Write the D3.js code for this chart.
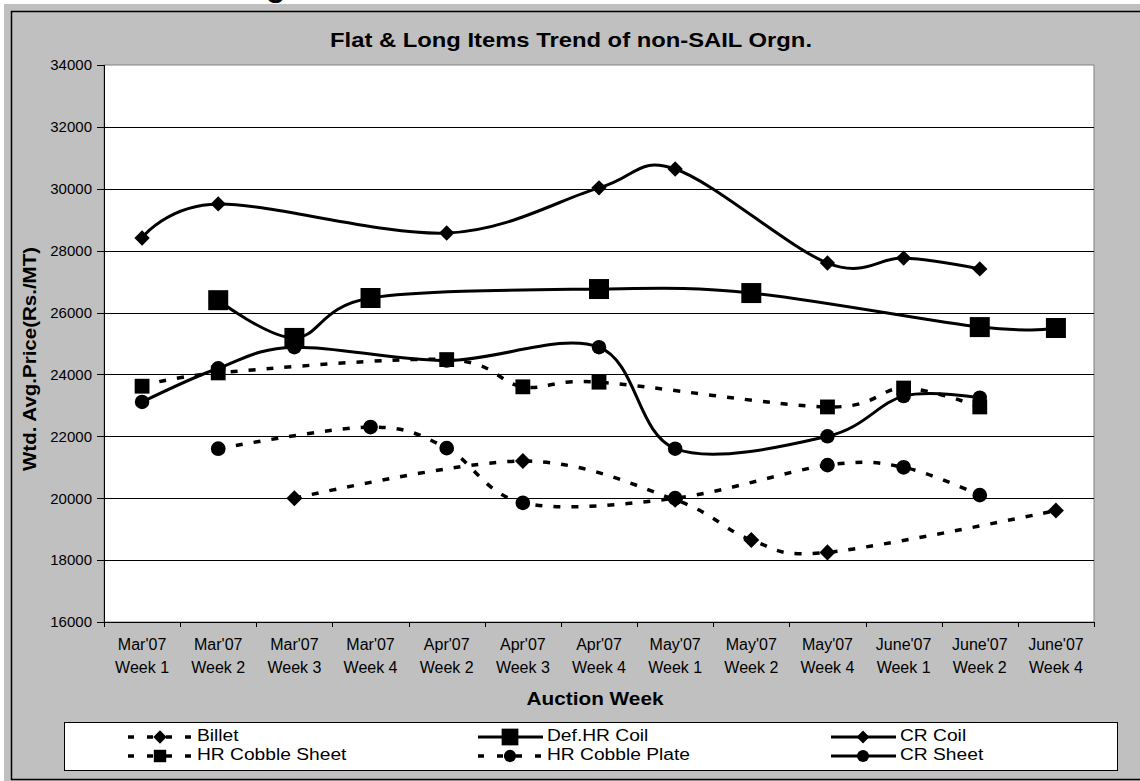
<!DOCTYPE html>
<html>
<head>
<meta charset="utf-8">
<script src="https://cdn.jsdelivr.net/npm/d3@7"></script>
<style>
  body { margin: 0; background: #fff; }
  text { font-family: Arial, "Liberation Sans", sans-serif; fill: #000; }
</style>
</head>
<body>
<svg id="chart" width="1140" height="781"></svg>
<script>
// categories
const months = ["Mar'07", "Mar'07", "Mar'07", "Mar'07", "Apr'07", "Apr'07", "Apr'07",
  "May'07", "May'07", "May'07", "June'07", "June'07", "June'07"]
const weeks = ['Week 1', 'Week 2', 'Week 3', 'Week 4', 'Week 2', 'Week 3', 'Week 4',
  'Week 1', 'Week 2', 'Week 4', 'Week 1', 'Week 2', 'Week 4']

// series values (Rs./MT), null = no auction that week
const billet = [null, null, 20000, null, null, 21200, null, 19950, 18650, 18250, null, null, 19600]
const defHrCoil = [null, 26400, 25180, 26470, null, null, 26760, null, 26630, null, null, 25530, 25500]
const crCoil = [28410, 29510, null, null, 28570, null, 30030, 30640, null, 27600, 27760, 27410, null]
const hrCobbleSheet = [23620, 24050, null, null, 24480, 23600, 23750, null, null, 22950, 23560, 22950, null]
const hrCobblePlate = [null, 21600, null, 22300, 21620, 19850, null, 20000, null, 21070, 21000, 20100, null]
const crSheet = [23110, 24200, 24880, null, 24450, null, 24880, 21600, null, 22000, 23300, 23250, null]

const yTicks = [16000, 18000, 20000, 22000, 24000, 26000, 28000, 30000, 32000, 34000]

let width = 1140
let height = 781

let plot = { left: 104, right: 1094, top: 65, bottom: 622 }

let series = [
  { name: 'Billet', values: billet, dashed: true, shape: 'diamond', size: 128 },
  { name: 'Def.HR Coil', values: defHrCoil, dashed: false, shape: 'square', size: 400 },
  { name: 'CR Coil', values: crCoil, dashed: false, shape: 'diamond', size: 118 },
  { name: 'HR Cobble Sheet', values: hrCobbleSheet, dashed: true, shape: 'square', size: 220 },
  { name: 'HR Cobble Plate', values: hrCobblePlate, dashed: true, shape: 'circle', size: 170 },
  { name: 'CR Sheet', values: crSheet, dashed: false, shape: 'circle', size: 165 }
]
// marker stacking seen in the picture
let markerOrder = ['Billet', 'CR Sheet', 'Def.HR Coil', 'CR Coil', 'HR Cobble Plate', 'HR Cobble Sheet']

let svg = d3.select('#chart')

// page / chart area
svg.append('rect')
  .attr('x', 4).attr('y', 4)
  .attr('width', width).attr('height', height)
  .attr('fill', '#c0c0c0')

// bit of the slide heading that is cut off
svg.append('text')
  .text('g')
  .attr('x', 266).attr('y', -4)
  .attr('font-size', 32).attr('font-weight', 'bold')

svg.append('rect')
  .attr('x', 11.5).attr('y', 11.5)
  .attr('width', width).attr('height', 768)
  .attr('fill', 'none')
  .attr('stroke', '#000')
  .attr('stroke-width', 1.5)

let xScale = d3.scalePoint()
  .domain(d3.range(months.length))
  .range([plot.left, plot.right])
  .padding(0.5)

let xEdges = d3.scaleLinear()
  .domain([0, months.length])
  .range([plot.left, plot.right])

let yScale = d3.scaleLinear()
  .domain([16000, 34000])
  .range([plot.bottom, plot.top])

// plot area
svg.append('rect')
  .attr('x', plot.left).attr('y', plot.top)
  .attr('width', plot.right - plot.left)
  .attr('height', plot.bottom - plot.top)
  .attr('fill', '#fff')
  .attr('stroke', '#808080')
  .attr('stroke-width', 1)

// gridlines
let grid = svg.append('g')
  .attr('transform', `translate(${plot.left},0)`)
  .call(d3.axisLeft(yScale)
    .tickValues(yTicks.slice(1, -1))
    .tickSize(-(plot.right - plot.left))
    .tickFormat(''))
grid.select('.domain').remove()
grid.selectAll('line')
  .attr('stroke', '#000')
  .attr('shape-rendering', 'crispEdges')

// y axis
let yAxis = svg.append('g')
  .attr('transform', `translate(${plot.left},0)`)
  .call(d3.axisLeft(yScale)
    .tickValues(yTicks)
    .tickSize(7)
    .tickPadding(5)
    .tickFormat(d3.format('d')))
yAxis.select('.domain').attr('stroke', '#000').attr('shape-rendering', 'crispEdges')
yAxis.selectAll('line').attr('stroke', '#000').attr('shape-rendering', 'crispEdges')
yAxis.selectAll('text')
  .attr('font-size', 15)
  .attr('font-family', 'Arial, "Liberation Sans", sans-serif')
  .attr('fill', '#000')

// x axis (ticks between categories)
let xAxis = svg.append('g')
  .attr('transform', `translate(0,${plot.bottom})`)
  .call(d3.axisBottom(xEdges)
    .tickValues(d3.range(months.length + 1))
    .tickSize(5)
    .tickSizeOuter(0)
    .tickFormat(''))
xAxis.select('.domain').attr('stroke', '#000').attr('shape-rendering', 'crispEdges')
xAxis.selectAll('line').attr('stroke', '#000').attr('shape-rendering', 'crispEdges')

let xLabels = svg.append('g')
  .selectAll('text')
  .data(months)
  .enter()
  .append('text')
  .attr('text-anchor', 'middle')
  .attr('font-size', 16)
  .attr('transform', (d, i) => `translate(${xScale(i)},0)`)
xLabels.append('tspan').attr('x', 0).attr('y', 650).text(d => d)
xLabels.append('tspan').attr('x', 0).attr('y', 673).text((d, i) => weeks[i])

// titles
svg.append('text')
  .text('Flat & Long Items Trend of non-SAIL Orgn.')
  .attr('x', 571).attr('y', 47)
  .attr('text-anchor', 'middle')
  .attr('font-size', 21)
  .attr('font-weight', 'bold')
  .attr('textLength', 482)
  .attr('lengthAdjust', 'spacingAndGlyphs')

svg.append('text')
  .text('Auction Week')
  .attr('x', 595).attr('y', 705)
  .attr('text-anchor', 'middle')
  .attr('font-size', 18.5)
  .attr('font-weight', 'bold')
  .attr('textLength', 137)
  .attr('lengthAdjust', 'spacingAndGlyphs')

svg.append('text')
  .text('Wtd. Avg.Price(Rs./MT)')
  .attr('transform', 'translate(36,359) rotate(-90)')
  .attr('text-anchor', 'middle')
  .attr('font-size', 18.5)
  .attr('font-weight', 'bold')
  .attr('textLength', 224)
  .attr('lengthAdjust', 'spacingAndGlyphs')

// lines
function markerPath(shape, size) {
  let type = shape === 'circle' ? d3.symbolCircle : d3.symbolSquare
  return d3.symbol().type(type).size(size)()
}
function markerRotate(shape) {
  return shape === 'diamond' ? ' rotate(45)' : ''
}

let line = d3.line()
  .x(d => xScale(d.i))
  .y(d => yScale(d.v))
  .curve(d3.curveCardinal.tension(0))

let points = s => s.values.map((v, i) => ({ i: i, v: v })).filter(d => d.v !== null)

svg.append('g')
  .selectAll('path')
  .data(series)
  .enter()
  .append('path')
  .attr('d', s => line(points(s)))
  .attr('fill', 'none')
  .attr('stroke', '#000')
  .attr('stroke-width', s => s.dashed ? 3.5 : 3)
  .attr('stroke-dasharray', s => s.dashed ? '7,11' : null)

markerOrder.forEach(name => {
  let s = series.find(d => d.name === name)
  svg.append('g')
    .selectAll('path')
    .data(points(s))
    .enter()
    .append('path')
    .attr('d', markerPath(s.shape, s.size))
    .attr('transform', d => `translate(${xScale(d.i)},${yScale(d.v)})` + markerRotate(s.shape))
    .attr('fill', '#000')
})

// legend
svg.append('rect')
  .attr('x', 64.5).attr('y', 722.5)
  .attr('width', 1053).attr('height', 48)
  .attr('fill', '#fff')
  .attr('stroke', '#000')
  .attr('stroke-width', 1)

let legendCols = [128, 478, 831]
let legendRows = [737, 756]

series.forEach((s, k) => {
  let x0 = legendCols[k % 3]
  let y0 = legendRows[Math.floor(k / 3)]
  let g = svg.append('g').attr('transform', `translate(${x0},${y0})`)
  g.append('line')
    .attr('x1', 0).attr('x2', 65)
    .attr('stroke', '#000')
    .attr('stroke-width', s.dashed ? 3.5 : 3)
    .attr('stroke-dasharray', s.dashed ? '6,13' : null)
  g.append('path')
    .attr('d', markerPath(s.shape, s.size * 0.7))
    .attr('transform', 'translate(32,0)' + markerRotate(s.shape))
    .attr('fill', '#000')
  let t = g.append('text')
    .text(s.name)
    .attr('x', 69)
    .attr('y', 3.5)
    .attr('font-size', 16)
  // the original legend text runs a little wider than plain Arial
  let w = t.node().getComputedTextLength()
  t.attr('textLength', w * 1.2).attr('lengthAdjust', 'spacingAndGlyphs')
})
</script>
</body>
</html>
